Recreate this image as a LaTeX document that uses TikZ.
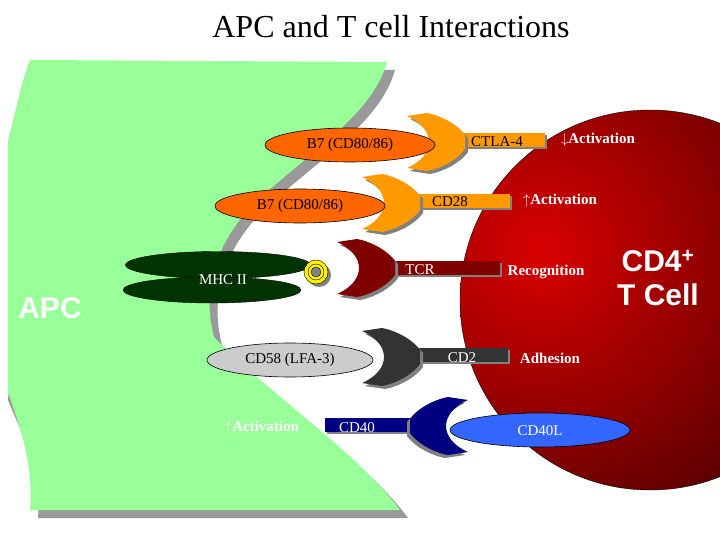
\documentclass[tikz,border=0pt]{standalone}
\usepackage{fontspec}
\setmainfont{Liberation Serif}
\newfontfamily\sansbold{Liberation Sans}
\usetikzlibrary{shapes}
\definecolor{apcgreen}{HTML}{99FF99}
\definecolor{bsorange}{HTML}{FF6600}
\definecolor{rcorange}{HTML}{FF9900}
\definecolor{mhcgreen}{HTML}{003300}
\definecolor{tcrred}{HTML}{800000}
\definecolor{cdgray}{HTML}{333333}
\definecolor{cdnavy}{HTML}{000080}
\definecolor{cdblue}{HTML}{3366FF}
\newcommand\claw[4]{% x, y, colour, xscale
  \begin{scope}[shift={(#1,#2)}, xscale=#4]
    \foreach \d/\c in {3/gray, 0/#3}{
      \fill[\c, shift={(\d,\d)}] (-58,-26) -- (-38,-29) .. controls (-22,-26) and (-6,-16) .. (0,-7)
        -- (0,7) .. controls (-6,16) and (-22,26) .. (-38,29) -- (-58,26)
        .. controls (-44,20) and (-36,10) .. (-36,0) .. controls (-36,-10) and (-44,-20) .. (-58,-26) -- cycle;
    }
  \end{scope}
}
\begin{document}
\begin{tikzpicture}[x=1pt,y=-1pt]
  \tikzset{lbl/.style={font=\fontsize{15}{17}\selectfont, inner sep=1pt}}
  \tikzset{wlbl/.style={lbl, text=white}}
  \tikzset{effect/.style={wlbl, font=\bfseries\fontsize{15}{17}\selectfont}}
  \tikzset{ligand/.style={ellipse, draw=black, line width=0.6pt, minimum width=170pt, minimum height=34pt, font=\fontsize{15}{17}\selectfont}}

  \useasboundingbox (0,0) rectangle (720,540);

  \node (title) at (391,27) {\fontsize{32}{36}\selectfont APC and T cell Interactions};

  % APC body with shadow
  \fill[gray!80] (38,68) -- (395,70) .. controls (380,125) and (310,165) .. (262,212)
    .. controls (222,252) and (210,300) .. (222,345) .. controls (275,400) and (365,460) .. (408,518)
    -- (38,518) .. controls (42,470) and (20,430) .. (8,400) -- cycle;
  \fill[apcgreen] (30,60) -- (387,62) .. controls (372,117) and (302,157) .. (254,204)
    .. controls (214,244) and (202,292) .. (214,337) .. controls (267,392) and (357,452) .. (400,510)
    -- (30,510) .. controls (34,462) and (18,422) .. (8,392) -- (8,140) .. controls (16,110) and (22,80) .. (30,60) -- cycle;

  % T cell
  \begin{scope}
    \clip (0,0) rectangle (720,540);
    \begin{scope}
      \clip (650,300) circle (190);
      \shade[inner color=red!85!black, outer color=tcrred!60!black] (540,250) circle (330);
    \end{scope}
    \draw[black] (650,300) circle (190);
  \end{scope}

  \node[font=\sansbold\bfseries\fontsize{30}{32}\selectfont, text=white] (apc) at (50,308) {APC};
  \node[font=\sansbold\bfseries\fontsize{30}{34}\selectfont, text=white, align=center] (tcell) at (658,278) {CD4\textsuperscript{+}\\T Cell};

  % CTLA-4
  \fill[gray] (462,135) rectangle (547,149);
  \fill[rcorange] (460,133) rectangle (545,147);
  \claw{465}{142}{rcorange}{1}
  \node[ligand, fill=bsorange] (b7a) at (350,145) {B7 (CD80/86)};
  \node[lbl] (ctla) at (497,142) {CTLA-4};
  \node[effect] (acta) at (598,140) {$\downarrow$Activation};

  % CD28
  \fill[gray] (417,196) rectangle (512,210);
  \fill[rcorange] (415,194) rectangle (510,208);
  \claw{420}{203}{rcorange}{1}
  \node[ligand, fill=bsorange] (b7b) at (300,206) {B7 (CD80/86)};
  \node[lbl] (cd28) at (450,202) {CD28};
  \node[effect] (actb) at (560,201) {$\uparrow$Activation};

  % MHC II / TCR
  \fill[gray] (393,263) rectangle (502,277);
  \fill[tcrred] (391,261) rectangle (500,275);
  \claw{395}{268}{tcrred}{1}
  \node[ellipse, draw=black, fill=mhcgreen, minimum width=185pt, minimum height=27pt] (mhca) at (218,265) {};
  \node[ellipse, draw=black, fill=mhcgreen, minimum width=178pt, minimum height=26pt] (mhcb) at (212,290) {};
  \node[wlbl] (mhc) at (223,280) {MHC II};
  \fill[gray] (319,275) circle (12);
  \draw[fill=yellow, even odd rule] (316,272) circle (12) circle (5);
  \draw (316,272) circle (8);
  \node[wlbl] (tcr) at (420,270) {TCR};
  \node[effect] (recog) at (546,272) {Recognition};

  % CD58 / CD2
  \fill[gray] (420,350) rectangle (510,364);
  \fill[cdgray] (418,348) rectangle (508,362);
  \claw{420}{357}{cdgray}{1}
  \node[ligand, fill=gray!40, minimum width=166pt] (cd58) at (290,360) {CD58 (LFA-3)};
  \node[wlbl] (cd2) at (462,358) {CD2};
  \node[effect] (adh) at (550,358) {Adhesion};

  % CD40 / CD40L
  \fill[gray] (327,420) rectangle (414,434);
  \fill[cdnavy] (325,418) rectangle (412,432);
  \claw{410}{426}{cdnavy}{-1}
  \node[ligand, fill=cdblue, minimum width=180pt] (cd40l) at (540,430) {};
  \node[wlbl] (cd40ltxt) at (540,431) {CD40L};
  \node[wlbl] (cd40) at (357,428) {CD40};
  \node[effect] (actc) at (262,428) {$\uparrow$Activation};
\end{tikzpicture}
\end{document}
